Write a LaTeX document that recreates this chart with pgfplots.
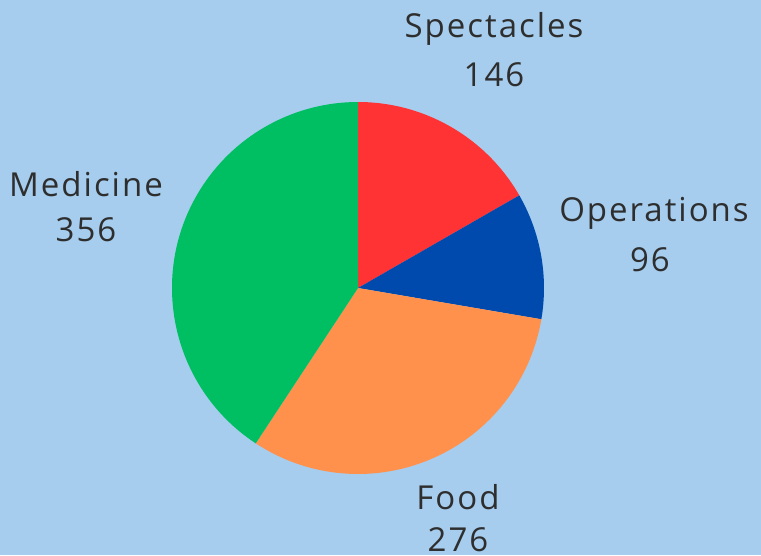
\documentclass[border=0pt]{standalone}
\usepackage{pgfplots}
\pgfplotsset{compat=1.18}
\usepackage{pgfplotstable}
\usepackage{fontspec}
\setmainfont{Open Sans}[LetterSpace=6]

\definecolor{bgblue}{HTML}{A6CDEE}
\definecolor{cSpec}{HTML}{FF3333}
\definecolor{cOps}{HTML}{004AAD}
\definecolor{cFood}{HTML}{FF914D}
\definecolor{cMed}{HTML}{00BF63}
\definecolor{txt}{HTML}{2E2E2E}

\tikzset{lbl/.style={anchor=base, text=txt, font=\fontsize{33}{38}\selectfont}}

% label, value, colour (clockwise from 12 o'clock)
\pgfplotstableread{
label      value color
Spectacles 146   cSpec
Operations 96    cOps
Food       276   cFood
Medicine   356   cMed
}\piedata

\begin{document}
\begin{tikzpicture}
\begin{axis}[
    x=1pt, y=1pt,
    xmin=0, xmax=761, ymin=0, ymax=555,
    scale only axis,
    axis line style={draw=none},
    ticks=none,
    clip=false,
    axis background/.style={fill=bgblue},
]
% total of the values
\def\total{0}
\pgfplotsforeachungrouped \i in {0,...,3}{
    \pgfplotstablegetelem{\i}{value}\of\piedata
    \pgfmathsetmacro\total{\total+\pgfplotsretval}
}
% wedges, clockwise from 90 degrees
\def\acc{90}
\pgfplotsforeachungrouped \i in {0,...,3}{
    \pgfplotstablegetelem{\i}{value}\of\piedata \let\val\pgfplotsretval
    \pgfplotstablegetelem{\i}{color}\of\piedata \let\col\pgfplotsretval
    \pgfmathsetmacro\aend{\acc-\val/\total*360}
    \edef\temp{\noexpand\fill[\col] (axis cs:358,267) -- ++(\acc:186pt)
        arc[start angle=\acc, end angle=\aend, radius=186pt] -- cycle;}
    \temp
    \global\let\acc\aend
}
% labels
\node[lbl] at (axis cs:494,517) {Spectacles};
\node[lbl] at (axis cs:494,468) {146};
\node[lbl] at (axis cs:654,333) {Operations};
\node[lbl] at (axis cs:650,283) {96};
\node[lbl] at (axis cs:458,46) {Food};
\node[lbl] at (axis cs:458,4) {276};
\node[lbl] at (axis cs:86,358) {Medicine};
\node[lbl] at (axis cs:86,313) {356};
\end{axis}
\end{tikzpicture}
\end{document}
